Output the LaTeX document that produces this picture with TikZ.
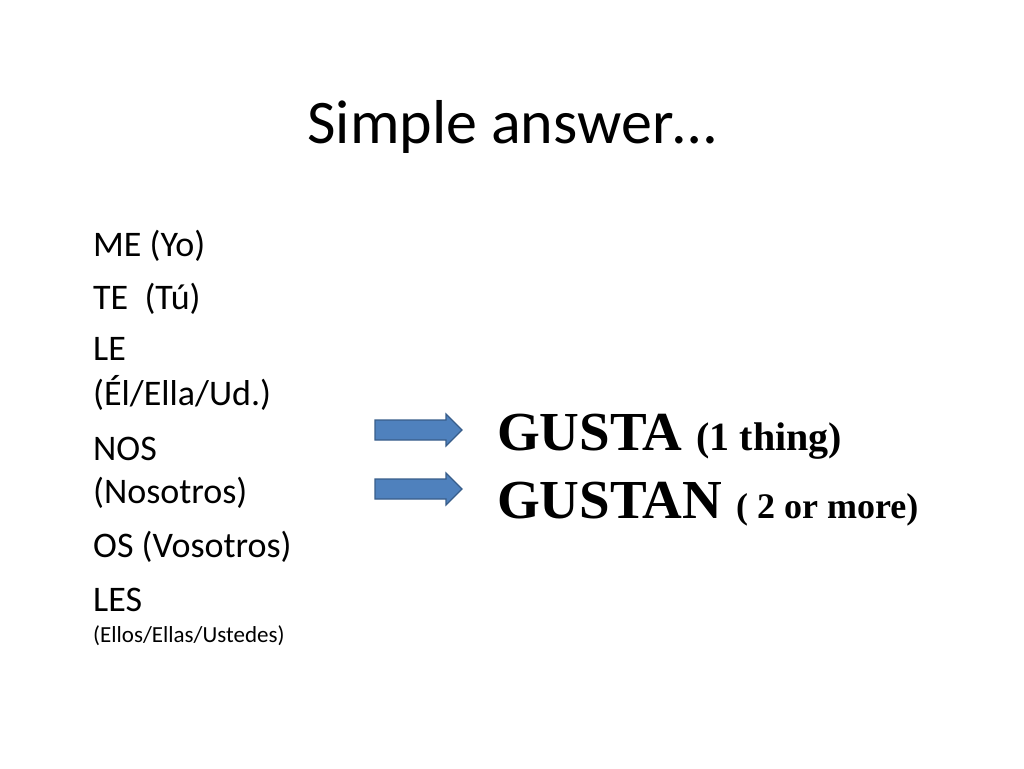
\documentclass[tikz,border=0pt]{standalone}
\usepackage{fontspec}
\setmainfont{Carlito}
\newfontfamily\serifb{Liberation Serif}
\definecolor{arrfill}{HTML}{4F81BD}
\definecolor{arrdraw}{HTML}{385D8A}
\begin{document}
\begin{tikzpicture}[x=1pt,y=-1pt,
  item/.style={anchor=base west,inner sep=0pt,font=\fontsize{36}{36}\selectfont},
  blockarrow/.style={fill=arrfill,draw=arrdraw,line width=1.2pt,line join=miter},
  big/.style={anchor=base west,inner sep=0pt,font=\serifb\bfseries\fontsize{55}{55}\selectfont}]
\useasboundingbox (0,0) rectangle (1024,768);
\node[anchor=base,inner sep=0pt,font=\fontsize{62}{62}\selectfont] (title) at (512,143) {Simple answer…};
\node[item] (me) at (93,256) {ME (Yo)};
\node[item] (te) at (93,309) {TE~~(Tú)};
\node[item] (le) at (93,360) {LE};
\node[item] (el) at (93,405) {(Él/Ella/Ud.)};
\node[item] (nos) at (93,460) {NOS};
\node[item] (noso) at (93,503) {(Nosotros)};
\node[item] (os) at (93,557) {OS (Vosotros)};
\node[item] (les) at (93,611) {LES};
\node[item,font=\fontsize{23}{23}\selectfont] (ellos) at (93,642) {(Ellos/Ellas/Ustedes)};
\foreach \n/\y in {a1/430,a2/489}{
  \coordinate (\n) at (375,\y);
  \draw[blockarrow] (\n) ++(0,-10) -- ++(71,0) -- ++(0,-6) -- ++(16,16) -- ++(-16,16) -- ++(0,-6) -- ++(-71,0) -- cycle;
}
\node[big] (gusta) at (497,450) {GUSTA \fontsize{40}{40}\selectfont(1 thing)};
\node[big] (gustan) at (497,518) {GUSTAN \fontsize{36}{36}\selectfont( 2 or more)};
\end{tikzpicture}
\end{document}
